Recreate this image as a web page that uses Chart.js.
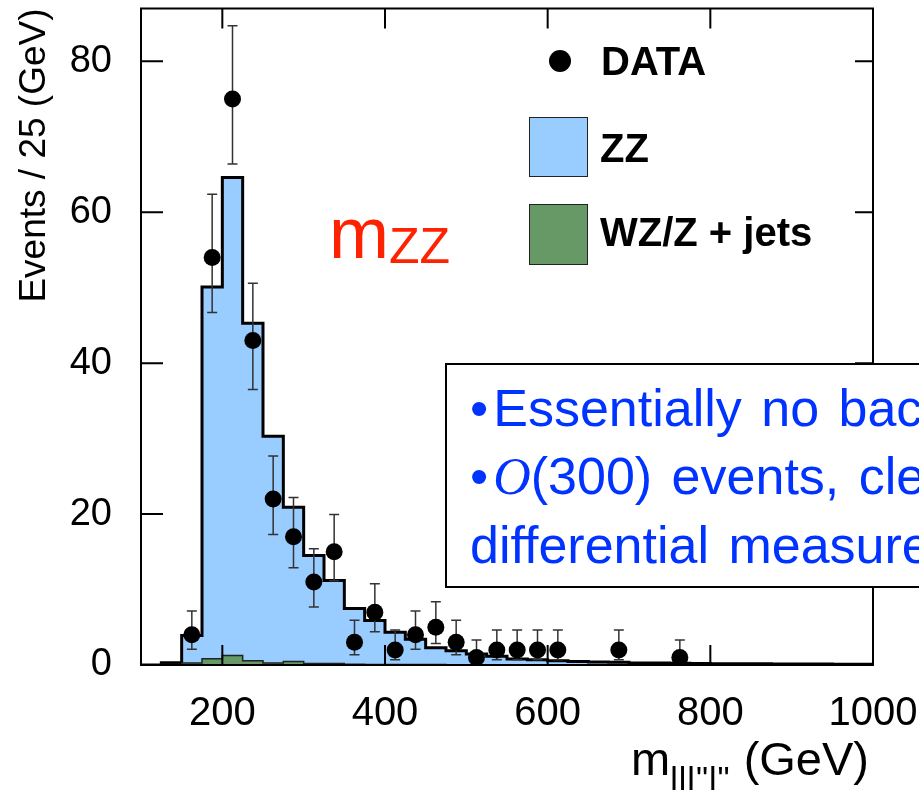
<!DOCTYPE html>
<html>
<head>
<meta charset="utf-8">
<script src="https://cdn.jsdelivr.net/npm/chart.js@4.4.0/dist/chart.umd.min.js"></script>
<style>
  html, body { margin: 0; padding: 0; background: #fff; overflow: hidden; }
  #wrap { position: relative; width: 919px; height: 795px; overflow: hidden;
          font-family: "Liberation Sans", Arial, sans-serif; }
  #myChart { position: absolute; left: 0; top: 0; }
  .lbl { position: absolute; white-space: nowrap; line-height: 1; color: #000; }
  .leg { font-weight: bold; font-size: 40px; }
  .swatch { position: absolute; box-sizing: border-box; border: 1px solid #222; }
  #dot { position: absolute; left: 549px; top: 50px; width: 22px; height: 22px;
         border-radius: 50%; background: #000; }
  #mzz { left: 329px; top: 197px; font-size: 72px; color: #ff2200; }
  #mzz span { font-size: 50px; vertical-align: -5px; }
  #xtitle { right: 50px; top: 735px; font-size: 47px; }
  #xtitle span { font-size: 34px; letter-spacing: 1px; vertical-align: -15px; }
  #note { position: absolute; left: 445px; top: 363px; width: 640px; height: 225px;
          box-sizing: border-box; border: 2px solid #000; background: #fff;
          padding: 9px 0 0 23px; font-size: 52px; line-height: 68px; color: #0033ff;
          white-space: nowrap; word-spacing: 5px; }
  #note b { font-weight: normal; margin-right: 5px; }
  #note i { font-family: "Liberation Serif", serif; }
</style>
</head>
<body>
<div id="wrap">
  <canvas id="myChart" width="919" height="795"></canvas>

  <div id="dot"></div>
  <div class="lbl leg" style="left:601px; top:41px;">DATA</div>
  <div class="swatch" style="left:529px; top:117px; width:59px; height:60px; background:#99ccff;"></div>
  <div class="lbl leg" style="left:600px; top:128px;">ZZ</div>
  <div class="swatch" style="left:529px; top:204px; width:59px; height:61px; background:#669966;"></div>
  <div class="lbl leg" style="left:600px; top:212px;">WZ/Z + jets</div>

  <div id="mzz" class="lbl">m<span>ZZ</span></div>

  <div id="note"><b>•</b>Essentially no background<br><b>•</b><i>O</i>(300) events, clean<br>differential measurements</div>

  <div id="xtitle" class="lbl">m<span>lll"l"</span> (GeV)</div>
</div>

<script>
// 25 GeV bins from 100 to 1000
const binEdges = [100, 125, 150, 175, 200, 225, 250, 275, 300, 325, 350, 375, 400, 425, 450, 475, 500, 525, 550,
                  575, 600, 625, 650, 675, 700, 725, 750, 775, 800, 825, 850, 875, 900, 925, 950, 975, 1000];

// stacked prediction (ZZ on top of WZ/Z + jets), events per bin
const zzStack = [0, 0.3, 3.9, 50.1, 64.6, 45.3, 30.3, 20.9, 14.5, 11.2,
                 7.5, 5.9, 4.35, 3.4, 2.3, 1.9, 1.45, 1.15, 0.8, 0.7,
                 0.57, 0.48, 0.4, 0.35, 0.28, 0.25, 0.22, 0.2, 0.18, 0.17,
                 0.15, 0.14, 0.13, 0.12, 0.1, 0.1];

// WZ/Z + jets background
const wzJets = [0, 0.05, 0.26, 0.83, 1.27, 0.57, 0.26, 0.48, 0.2, 0.2,
                0.1, 0.08, 0.06, 0.05, 0.05, 0.04, 0.04, 0.03, 0.03, 0.03,
                0.02, 0.02, 0.02, 0.02, 0.02, 0.02, 0.01, 0.01, 0.01, 0.01,
                0.01, 0.01, 0.01, 0.01, 0.01, 0.01];

// data points (bin centres) and their asymmetric errors
const dataMass   = [162.5, 187.5, 212.5, 237.5, 262.5, 287.5, 312.5, 337.5, 362.5, 387.5, 412.5,
                    437.5, 462.5, 487.5, 512.5, 537.5, 562.5, 587.5, 612.5, 687.5, 762.5];
const dataEvents = [4, 54, 75, 43, 22, 17, 11, 15, 3, 7, 2, 4, 5, 3, 1, 2, 2, 2, 2, 2, 1];
const errUp      = [3.16, 8.4, 9.7, 7.6, 5.7, 5.2, 4.4, 4.95, 2.92, 3.77, 2.64,
                    3.16, 3.38, 2.92, 2.3, 2.64, 2.64, 2.64, 2.64, 2.64, 2.3];
const errDown    = [1.91, 7.3, 8.6, 6.5, 4.7, 4.1, 3.3, 3.85, 1.63, 2.58, 1.29,
                    1.91, 2.16, 1.63, 0.83, 1.29, 1.29, 1.29, 1.29, 1.29, 0.83];

const xTicks = [200, 400, 600, 800, 1000];
const yTicks = [0, 20, 40, 60, 80];

Chart.defaults.font.family = '"Liberation Sans", Arial, sans-serif';
Chart.defaults.color = '#000';

function stepPoints(vals) {
  const pts = vals.map((v, i) => ({ x: binEdges[i], y: v }));
  pts.push({ x: binEdges[vals.length], y: 0 });
  return pts;
}

// error bars go between the histograms and the markers
const errorBars = {
  id: 'errorBars',
  afterDatasetDraw(chart, args) {
    if (args.index !== 1) return;
    const x = chart.scales.x, y = chart.scales.y, ctx = chart.ctx;
    ctx.save();
    ctx.strokeStyle = '#333';
    ctx.lineWidth = 1.5;
    ctx.beginPath();
    dataMass.forEach((m, i) => {
      const px = x.getPixelForValue(m);
      const top = y.getPixelForValue(dataEvents[i] + errUp[i]);
      const bot = y.getPixelForValue(dataEvents[i] - errDown[i]);
      ctx.moveTo(px, top); ctx.lineTo(px, bot);
      ctx.moveTo(px - 5, top); ctx.lineTo(px + 5, top);
      ctx.moveTo(px - 5, bot); ctx.lineTo(px + 5, bot);
    });
    ctx.stroke();
    ctx.restore();
  }
};

// box round the plot with inward ticks
const frame = {
  id: 'frame',
  afterDraw(chart) {
    const { ctx, chartArea: a } = chart;
    const x = chart.scales.x, y = chart.scales.y;
    ctx.save();
    ctx.strokeStyle = '#000';
    ctx.lineWidth = 2;
    ctx.strokeRect(a.left, a.top, a.right - a.left, a.bottom - a.top);
    ctx.beginPath();
    yTicks.forEach(v => {
      const py = y.getPixelForValue(v);
      ctx.moveTo(a.left, py); ctx.lineTo(a.left + 22, py);
      ctx.moveTo(a.right, py); ctx.lineTo(a.right - 18, py);
    });
    xTicks.forEach(v => {
      const px = x.getPixelForValue(v);
      ctx.moveTo(px, a.bottom); ctx.lineTo(px, a.bottom - 20);
      ctx.moveTo(px, a.top); ctx.lineTo(px, a.top + 20);
    });
    ctx.stroke();
    ctx.restore();
  }
};

let ctx = document.getElementById('myChart').getContext('2d');

let myChart = new Chart(ctx, {
  type: 'line',
  data: {
    datasets: [
      {
        label: 'DATA',
        data: dataMass.map((m, i) => ({ x: m, y: dataEvents[i] })),
        showLine: false,
        pointRadius: 8.5,
        pointBackgroundColor: '#000',
        pointBorderWidth: 0,
        order: 0
      },
      {
        label: 'WZ/Z + jets',
        data: stepPoints(wzJets),
        stepped: 'before',
        fill: 'origin',
        backgroundColor: '#669966',
        borderColor: '#222',
        borderWidth: 1.5,
        pointRadius: 0,
        order: 1
      },
      {
        label: 'ZZ',
        data: stepPoints(zzStack),
        stepped: 'before',
        fill: 'origin',
        backgroundColor: '#99ccff',
        borderColor: '#000',
        borderWidth: 3,
        pointRadius: 0,
        order: 2
      }
    ]
  },
  options: {
    responsive: false,
    animation: false,
    devicePixelRatio: 1,
    layout: { padding: { top: 7, right: 46, left: 0, bottom: 0 } },
    plugins: { legend: { display: false }, tooltip: { enabled: false } },
    scales: {
      x: {
        type: 'linear',
        min: 100,
        max: 1000,
        grid: { display: false, drawTicks: false },
        border: { display: false },
        ticks: { font: { size: 40 }, color: '#000', padding: 25, maxRotation: 0, autoSkip: false,
                 callback: v => String(v) },
        afterBuildTicks: s => { s.ticks = xTicks.map(v => ({ value: v })); },
        afterFit: s => { s.height = 130; s.paddingLeft = 0; s.paddingRight = 0; }
      },
      y: {
        min: 0,
        max: 87,
        grid: { display: false, drawTicks: false },
        border: { display: false },
        ticks: { font: { size: 38 }, color: '#000', padding: 29, callback: v => String(v) },
        afterBuildTicks: s => { s.ticks = yTicks.map(v => ({ value: v })); },
        afterFit: s => { s.width = 141; s.paddingTop = 0; s.paddingBottom = 0; },
        title: {
          display: true,
          text: 'Events / 25 (GeV)',
          align: 'end',
          color: '#000',
          font: { size: 37 },
          padding: { top: 13, bottom: 0 }
        }
      }
    }
  },
  plugins: [errorBars, frame]
});
</script>
</body>
</html>
